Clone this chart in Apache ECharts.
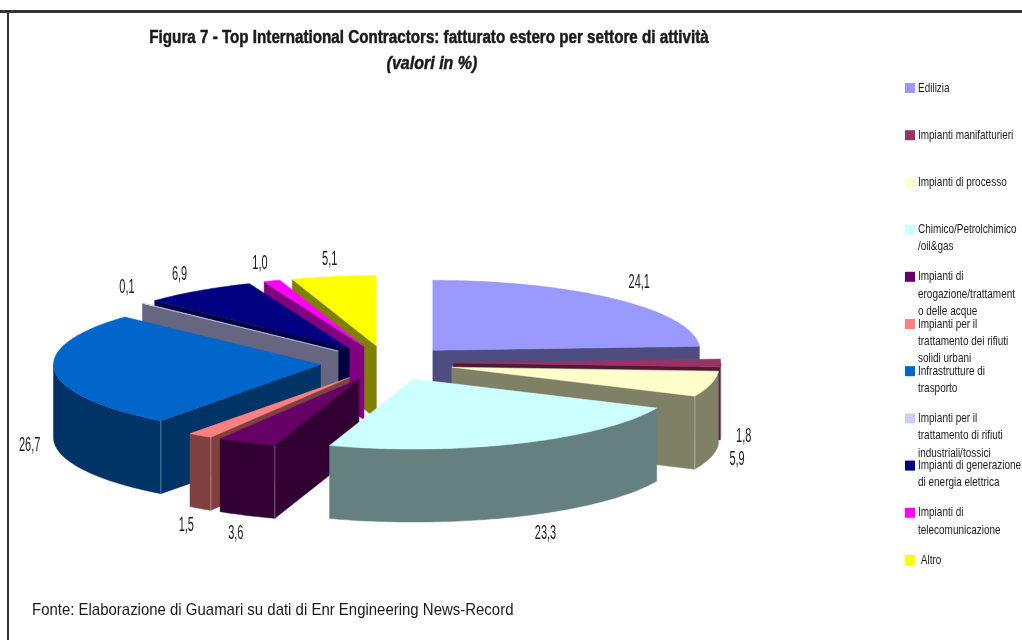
<!DOCTYPE html>
<html>
<head>
<meta charset="utf-8">
<style>html,body{margin:0;padding:0;background:#fff}#show{width:1022px;height:640px}</style>
<script src="https://cdn.jsdelivr.net/npm/echarts@6/dist/echarts.min.js"></script>
</head>
<body>
<div id="show"></div>
<script>
var myChart = echarts.init(document.getElementById("show"));

// values, clockwise from 12 o'clock
var categories = ['Edilizia', 'Impianti manifatturieri', 'Impianti di processo', 'Chimico/Petrolchimico\n/oil&gas',
    'Impianti di\nerogazione/trattament\no delle acque', 'Impianti per il\ntrattamento dei rifiuti\nsolidi urbani',
    'Infrastrutture di\ntrasporto', 'Impianti per il\ntrattamento di rifiuti\nindustriali/tossici',
    'Impianti di generazione\ndi energia elettrica', 'Impianti di\ntelecomunicazione', ' Altro'];
var values = [24.1, 1.8, 5.9, 23.3, 3.6, 1.5, 26.7, 0.1, 6.9, 1.0, 5.1];
var valueLabels = ['24,1', '1,8', '5,9', '23,3', '3,6', '1,5', '26,7', '0,1', '6,9', '1,0', '5,1'];

var topColors = ['#9999FF', '#993366', '#FFFFCC', '#CCFFFF', '#660066', '#FF8080', '#0066CC', '#CCCCFF', '#000080', '#FF00FF', '#FFFF00'];
var wallColors = ['#4D4D80', '#4D1A33', '#808066', '#668080', '#330033', '#804040', '#003366', '#666680', '#000040', '#800080', '#808000'];

// label nudges from the middle of each slice's outer arc
var labelNudgeX = [23, 23, 26, 25, -11, -14, -25, -16, -19, -12, -4];
var labelNudgeY = [-17, 73, 76, 90, 91, 90, 75, -16, -16, -17, -17];

// pie projection
var cx = 387, cy = 363, rx = 267, ry = 70, depth = 73, explode = 0.25;
var RAD = Math.PI / 180;

var total = values.reduce(function (a, b) { return a + b; }, 0);
var slices = [], cum = 0;
values.forEach(function (v, i) {
    var start = cum / total * 360;
    cum += v;
    slices.push({idx: i, start: start, end: cum / total * 360, mid: (start + cum / total * 360) / 2});
});
// paint from the back of the pie to the front
var drawOrder = slices.slice().sort(function (a, b) {
    return Math.cos(b.mid * RAD) - Math.cos(a.mid * RAD);
});

function rim(ox, oy, deg, dy) {
    return [ox + rx * Math.sin(deg * RAD), oy - ry * Math.cos(deg * RAD) + (dy || 0)];
}
function arc(ox, oy, a, b, dy) {
    var pts = [], n = Math.max(2, Math.ceil(b - a));
    for (var k = 0; k <= n; k++) pts.push(rim(ox, oy, a + (b - a) * k / n, dy));
    return pts;
}
function poly(points, color) {
    return {type: 'polygon', shape: {points: points}, style: {fill: color, stroke: color, lineWidth: 0.5}};
}
function wall(ox, oy, deg, color) {
    var p = rim(ox, oy, deg);
    return poly([[ox, oy], p, [p[0], p[1] + depth], [ox, oy + depth]], color);
}

function renderSlice(params, api) {
    var s = slices[api.value(0)], i = s.idx;
    var ox = cx + explode * rx * Math.sin(s.mid * RAD);
    var oy = cy - explode * ry * Math.cos(s.mid * RAD);
    var children = [];
    // flat cut faces that turn towards the viewer
    if (Math.sin(s.start * RAD) < 0) children.push(wall(ox, oy, s.start, wallColors[i]));
    if (Math.sin(s.end * RAD) > 0) children.push(wall(ox, oy, s.end, wallColors[i]));
    // curved outer wall, only the front half shows
    var a = Math.max(s.start, 90), b = Math.min(s.end, 270);
    if (b > a) {
        children.push(poly(arc(ox, oy, a, b).concat(arc(ox, oy, a, b, depth).reverse()), wallColors[i]));
        // light seam where the cut face meets the curved wall
        var seam = a === s.start ? (s.start > 180 ? a : null) : null;
        if (b === s.end && s.end < 180) seam = b;
        if (seam !== null) {
            var q = rim(ox, oy, seam);
            children.push({type: 'line', shape: {x1: q[0], y1: q[1], x2: q[0], y2: q[1] + depth},
                style: {stroke: 'rgba(255,255,255,0.35)', lineWidth: 1}});
        }
    }
    children.push(poly([[ox, oy]].concat(arc(ox, oy, s.start, s.end)), topColors[i]));
    return {type: 'group', children: children};
}

function renderLabel(params, api) {
    var s = slices[api.value(0)], i = s.idx;
    var p = rim(cx + explode * rx * Math.sin(s.mid * RAD), cy - explode * ry * Math.cos(s.mid * RAD), s.mid);
    return narrowText(p[0] + labelNudgeX[i], p[1] + labelNudgeY[i], valueLabels[i], 20, 0.55, 'center', 'normal', 'normal');
}

function narrowText(x, y, text, size, sx, align, weight, fontStyle) {
    var bold = weight === 'bold';
    return {
        type: 'text', x: x, y: y, scaleX: sx,
        style: {
            text: text, fill: '#1a1a1a', align: align, verticalAlign: 'middle',
            stroke: bold ? '#1a1a1a' : null, lineWidth: bold ? 0.5 : 0,
            font: (fontStyle || 'normal') + ' ' + (weight || 'normal') + ' ' + size + 'px "Liberation Sans"'
        }
    };
}

var graphics = [
    {type: 'rect', shape: {x: 0, y: 10, width: 1022, height: 3}, style: {fill: '#333'}},
    {type: 'rect', shape: {x: 7, y: 10, width: 2, height: 630}, style: {fill: '#333'}},
    narrowText(429, 38, 'Figura 7 - Top International Contractors: fatturato estero per settore di attività', 18, 0.844, 'center', 'bold'),
    narrowText(432, 64, '(valori in %)', 18, 0.89, 'center', 'bold', 'italic'),
    narrowText(32, 610, 'Fonte: Elaborazione di Guamari su dati di Enr Engineering News-Record', 17, 0.88, 'left')
];
categories.forEach(function (name, i) {
    var y = 88 + i * 47.2;
    graphics.push({type: 'rect', shape: {x: 905, y: y - 5, width: 10, height: 10}, style: {fill: topColors[i]}});
    name.split('\n').forEach(function (line, k) {
        graphics.push(narrowText(918, y + k * 17.3, line, 13, 0.767, 'left'));
    });
});

myChart.setOption({
    animation: false,
    backgroundColor: '#fff',
    graphic: graphics,
    series: [
        {type: 'custom', coordinateSystem: 'none', silent: true, renderItem: renderSlice,
            data: drawOrder.map(function (s) { return [slices.indexOf(s)]; })},
        {type: 'custom', coordinateSystem: 'none', silent: true, renderItem: renderLabel, z: 3,
            data: slices.map(function (s, i) { return [i]; })}
    ]
});
</script>
</body>
</html>
